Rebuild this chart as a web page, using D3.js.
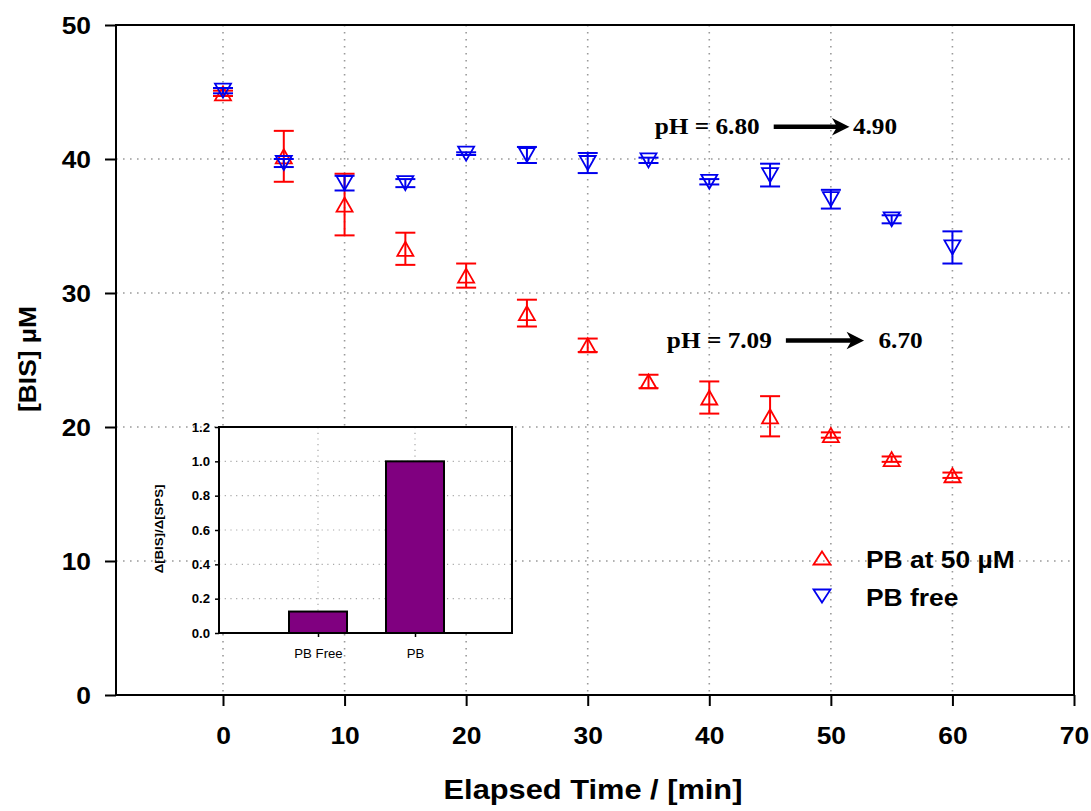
<!DOCTYPE html>
<html>
<head>
<meta charset="utf-8">
<script src="https://cdn.jsdelivr.net/npm/d3@7"></script>
<style>
  html, body { margin: 0; padding: 0; background: #fff; }
  svg { display: block; }
</style>
</head>
<body>
<svg id="chart" width="1091" height="811"></svg>
<script>
// ---- data ----
const times = [0, 5, 10, 15, 20, 25, 30, 35, 40, 45, 50, 55, 60];
const pbValues = [44.9, 40.2, 36.6, 33.3, 31.3, 28.5, 26.1, 23.4, 22.2, 20.8, 19.4, 17.6, 16.4];
const pbErrors = [0.2, 1.9, 2.3, 1.2, 0.9, 1.0, 0.5, 0.5, 1.2, 1.5, 0.2, 0.2, 0.2];
const freeValues = [45.1, 39.7, 38.2, 38.2, 40.4, 40.3, 39.7, 39.9, 38.3, 38.8, 37.0, 35.5, 33.4];
const freeErrors = [0.2, 0.3, 0.55, 0.3, 0.1, 0.6, 0.75, 0.2, 0.2, 0.85, 0.7, 0.3, 1.2];
const xTicks = [0, 10, 20, 30, 40, 50, 60, 70];
const yTicks = [0, 10, 20, 30, 40, 50];
const seriesNames = ["PB at 50 \u00B5M", "PB free"];
const insetCategories = ["PB Free", "PB"];
const insetValues = [0.125, 1.0];
const insetTicks = [0, 0.2, 0.4, 0.6, 0.8, 1.0, 1.2];
const phNotes = [
  { start: "pH = 6.80", end: "4.90", t0: 45.3, t1: 51.4, level: 42.4 },
  { start: "pH = 7.09", end: "6.70", t0: 46.3, t1: 52.6, level: 26.45 }
];

// ---- layout ----
const svg = d3.select("#chart");
const SANS = "'Liberation Sans', Arial, Helvetica, sans-serif";
const SERIF = "'Liberation Serif', 'Times New Roman', serif";
const frame = { left: 116, right: 1074, top: 25, bottom: 695 };

const x = d3.scaleLinear().domain([0, 70]).range([223, 1074]);
const y = d3.scaleLinear().domain([0, 50]).range([695, 25]);

// text with a slight horizontal stretch
function label(g, px, py, s, o = {}) {
  const sx = o.sx ?? 1.1;
  return g.append("text")
    .attr("transform", `translate(${px},${py}) rotate(${o.rotate || 0}) scale(${sx},1)`)
    .attr("text-anchor", o.anchor || "start")
    .attr("font-family", o.family || SANS)
    .attr("font-weight", o.weight || "bold")
    .attr("font-size", o.size || 24)
    .attr("fill", o.fill || "#000")
    .text(s);
}

const gridStyle = sel => sel.attr("stroke", "#9a9a9a").attr("stroke-width", 1.6)
  .attr("stroke-dasharray", "1.6,5.4").attr("fill", "none");

// ---- gridlines ----
const grid = svg.append("g");
grid.selectAll(".hg").data(yTicks.filter(v => v > 0 && v < 50)).join("line")
  .attr("x1", frame.left).attr("x2", frame.right)
  .attr("y1", d => y(d)).attr("y2", d => y(d)).call(gridStyle);
grid.selectAll(".vg").data(xTicks.filter(v => v < 70)).join("line")
  .attr("x1", d => x(d)).attr("x2", d => x(d))
  .attr("y1", frame.top).attr("y2", frame.bottom).call(gridStyle);

// ---- axes ----
const xAxis = svg.append("g").attr("transform", `translate(0,${frame.bottom})`)
  .call(d3.axisBottom(x).tickValues(xTicks).tickSize(11).tickFormat(d3.format("d")));
xAxis.select(".domain").remove();
xAxis.selectAll("line").attr("stroke", "#000").attr("stroke-width", 2);
xAxis.selectAll("text").attr("y", null).attr("dy", null)
  .attr("transform", "translate(0,49) scale(1.1,1)")
  .attr("font-family", SANS).attr("font-weight", "bold").attr("font-size", 24).attr("fill", "#000");

const yAxis = svg.append("g").attr("transform", `translate(${frame.left},0)`)
  .call(d3.axisLeft(y).tickValues(yTicks).tickSize(11).tickFormat(d3.format("d")));
yAxis.select(".domain").remove();
yAxis.selectAll("line").attr("stroke", "#000").attr("stroke-width", 2);
yAxis.selectAll("text").attr("x", null).attr("dy", "0.35em")
  .attr("transform", "translate(-25,0) scale(1.1,1)")
  .attr("font-family", SANS).attr("font-weight", "bold").attr("font-size", 24).attr("fill", "#000");

// plot frame
svg.append("rect")
  .attr("x", frame.left).attr("y", frame.top)
  .attr("width", frame.right - frame.left).attr("height", frame.bottom - frame.top)
  .attr("fill", "none").attr("stroke", "#000").attr("stroke-width", 2);

// axis titles
label(svg, 593, 799, "Elapsed Time / [min]", { anchor: "middle", size: 28 });
label(svg, 36, 359, "[BIS] \u00B5M", { anchor: "middle", size: 24, rotate: -90 });

// ---- series: error bars + triangle markers ----
function triPath(up, w = 16, h = 14) {
  const p = d3.path();
  if (up) { p.moveTo(0, -h / 2); p.lineTo(w / 2, h / 2); p.lineTo(-w / 2, h / 2); }
  else { p.moveTo(0, h / 2); p.lineTo(w / 2, -h / 2); p.lineTo(-w / 2, -h / 2); }
  p.closePath();
  return p.toString();
}

function drawSeries(values, errors, color, up) {
  const pts = times.map((t, i) => ({ t, v: values[i], e: errors[i] }));
  const g = svg.append("g");
  const eb = g.selectAll(".eb").data(pts).join("g")
    .attr("stroke", color).attr("stroke-width", 2).attr("fill", "none");
  eb.append("line")
    .attr("x1", d => x(d.t)).attr("x2", d => x(d.t))
    .attr("y1", d => y(d.v + d.e)).attr("y2", d => y(d.v - d.e));
  eb.append("line")
    .attr("x1", d => x(d.t) - 10).attr("x2", d => x(d.t) + 10)
    .attr("y1", d => y(d.v + d.e)).attr("y2", d => y(d.v + d.e));
  eb.append("line")
    .attr("x1", d => x(d.t) - 10).attr("x2", d => x(d.t) + 10)
    .attr("y1", d => y(d.v - d.e)).attr("y2", d => y(d.v - d.e));
  g.selectAll(".mk").data(pts).join("path")
    .attr("d", triPath(up))
    .attr("transform", d => `translate(${x(d.t)},${y(d.v)})`)
    .attr("fill", "none").attr("stroke", color).attr("stroke-width", 1.8);
}
drawSeries(pbValues, pbErrors, "#ff0000", true);
drawSeries(freeValues, freeErrors, "#0000ee", false);

// ---- pH annotations ----
phNotes.forEach(n => {
  const g = svg.append("g");
  const x0 = x(n.t0), x1 = x(n.t1), yy = y(n.level);
  label(g, x0 - 14, yy + 7, n.start, { anchor: "end", family: SERIF, size: 23 });
  g.append("line").attr("x1", x0).attr("x2", x1 - 10).attr("y1", yy).attr("y2", yy)
    .attr("stroke", "#000").attr("stroke-width", 4.5);
  g.append("path")
    .attr("d", `M${x1},${yy} L${x1 - 14},${yy - 7} L${x1 - 10},${yy} L${x1 - 14},${yy + 7} Z`)
    .attr("fill", "#000").attr("stroke", "#000").attr("stroke-width", 1.5).attr("stroke-linejoin", "miter");
  label(g, x1 + (n.end === "4.90" ? 5 : 16), yy + 7, n.end, { family: SERIF, size: 23 });
});

// ---- legend ----
const legend = svg.append("g");
[{ c: "#ff0000", up: true }, { c: "#0000ee", up: false }].forEach((s, i) => {
  const ly = 558 + i * 38;
  legend.append("path").attr("d", triPath(s.up, 17, 13))
    .attr("transform", `translate(822,${ly})`)
    .attr("fill", "none").attr("stroke", s.c).attr("stroke-width", 1.8);
  label(legend, 866, ly + 10, seriesNames[i], { size: 24 });
});

// ---- inset bar chart ----
const ib = { left: 219, right: 512, top: 427, bottom: 633 };
const inset = svg.append("g");
inset.append("rect").attr("x", ib.left).attr("y", ib.top)
  .attr("width", ib.right - ib.left).attr("height", ib.bottom - ib.top).attr("fill", "#fff");
const ix = d3.scalePoint().domain(insetCategories).range([ib.left + 2, ib.right]).padding(1);
const iy = d3.scaleLinear().domain([0, 1.2]).range([ib.bottom, ib.top]);

inset.selectAll(".ihg").data(insetTicks.filter(v => v > 0 && v < 1.2)).join("line")
  .attr("x1", ib.left).attr("x2", ib.right)
  .attr("y1", d => iy(d)).attr("y2", d => iy(d))
  .attr("stroke", "#a8a8a8").attr("stroke-width", 1.2).attr("stroke-dasharray", "1.2,4.5");
inset.selectAll(".ivg").data(insetCategories).join("line")
  .attr("x1", d => ix(d)).attr("x2", d => ix(d))
  .attr("y1", ib.top).attr("y2", ib.bottom)
  .attr("stroke", "#a8a8a8").attr("stroke-width", 1.2).attr("stroke-dasharray", "1.2,4.5");

const barW = 58;
inset.selectAll(".bar").data(insetCategories).join("rect")
  .attr("x", d => ix(d) - barW / 2).attr("width", barW)
  .attr("y", (d, i) => iy(insetValues[i]))
  .attr("height", (d, i) => iy(0) - iy(insetValues[i]))
  .attr("fill", "#800080").attr("stroke", "#000").attr("stroke-width", 2);

const ixAxis = inset.append("g").attr("transform", `translate(0,${ib.bottom})`)
  .call(d3.axisBottom(ix).tickSize(4));
ixAxis.select(".domain").remove();
ixAxis.selectAll("line").attr("stroke", "#000").attr("stroke-width", 1.5);
ixAxis.selectAll("text").attr("y", null).attr("dy", null)
  .attr("transform", "translate(0,25) scale(1.1,1)")
  .attr("font-family", SANS).attr("font-size", 12).attr("fill", "#000");

const iyAxis = inset.append("g").attr("transform", `translate(${ib.left},0)`)
  .call(d3.axisLeft(iy).tickValues(insetTicks).tickSize(4).tickFormat(d3.format(".1f")));
iyAxis.select(".domain").remove();
iyAxis.selectAll("line").attr("stroke", "#000").attr("stroke-width", 1.5);
iyAxis.selectAll("text").attr("x", null).attr("dy", "0.35em")
  .attr("transform", "translate(-9,0) scale(1.1,1)")
  .attr("font-family", SANS).attr("font-weight", "bold").attr("font-size", 12).attr("fill", "#000");

inset.append("rect").attr("x", ib.left).attr("y", ib.top)
  .attr("width", ib.right - ib.left).attr("height", ib.bottom - ib.top)
  .attr("fill", "none").attr("stroke", "#000").attr("stroke-width", 2);

label(inset, 163, 529, "\u0394[BIS]/\u0394[SPS]", { anchor: "middle", size: 11.5, rotate: -90, sx: 1.15 });
</script>
</body>
</html>
